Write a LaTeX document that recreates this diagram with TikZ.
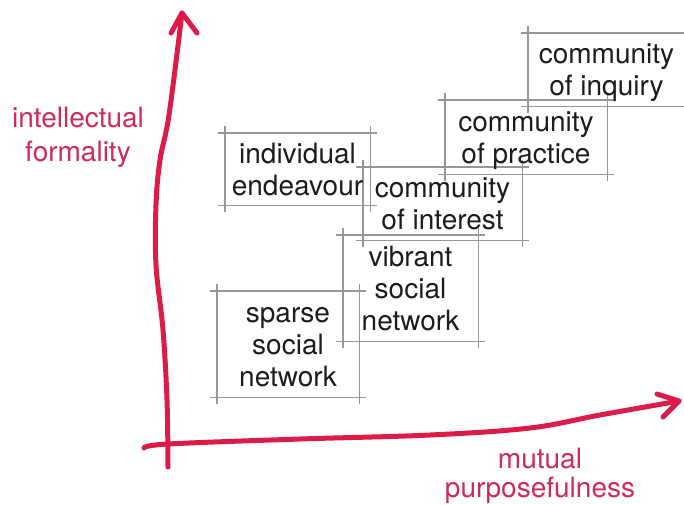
\documentclass[tikz,border=0pt]{standalone}
\usepackage{fontspec}
\setmainfont{TeX Gyre Heros}
\usetikzlibrary{backgrounds}

\definecolor{axisred}{RGB}{220,28,72}
\definecolor{labelred}{RGB}{208,42,88}
\definecolor{framegray}{RGB}{150,150,150}
\definecolor{inkblack}{RGB}{28,28,28}

% four loose strokes round a box, each running a little past the corners
\newcommand\sketchframe[1]{%
  \draw[frame] (#1.north west) -- (#1.north east);
  \draw[frame] (#1.south west) -- (#1.south east);
  \draw[frame] (#1.north west) -- (#1.south west);
  \draw[frame] (#1.north east) -- (#1.south east);
}
% even first/last line metrics, so every box centres its text alike
\newcommand\firstln[1]{\vphantom{A}#1}
\newcommand\lastln[1]{\smash{#1}\vphantom{A}}

\begin{document}
\begin{tikzpicture}[x=1pt,y=-1pt,
  stage/.style={inner sep=0pt, align=center, text=inkblack,
                font=\fontsize{28}{32}\selectfont},
  frame/.style={draw=framegray, line width=1.4pt,
                shorten <=-7pt, shorten >=-7pt},
  axis/.style={draw=axisred, line width=5pt, line cap=round, line join=round},
  axislabel/.style={inner sep=0pt, align=center, text=labelred}]
\useasboundingbox (0,0) rectangle (684,504);
\clip (0,0) rectangle (684,504);

% stages of a learning community
\node[stage, minimum width=142pt, minimum height=106pt] (sparse) at (288,344)
  {\firstln{sparse}\\social\\\lastln{network}};
\node[stage, minimum width=135pt, minimum height=106pt] (vibrant) at (410.5,288)
  {\firstln{vibrant}\\social\\\lastln{network}};
\node[stage, minimum width=159pt, minimum height=73pt] (interest) at (442.5,203.5)
  {\firstln{community}\\\lastln{of interest}};
\node[stage, minimum width=145pt, minimum height=72pt] (individual) at (297.5,169)
  {\firstln{individual}\\\lastln{endeavour}};
\node[stage, minimum width=162pt, minimum height=74pt] (practice) at (526,137)
  {\firstln{community}\\\lastln{of practice}};
\node[stage, minimum width=157pt, minimum height=73pt] (inquiry) at (606.5,69.5)
  {\firstln{community}\\\lastln{of inquiry}};

\begin{pgfonlayer}{background}
  \sketchframe{sparse}
  \sketchframe{vibrant}
  \sketchframe{interest}
  \sketchframe{individual}
  \sketchframe{practice}
  \sketchframe{inquiry}
\end{pgfonlayer}

% axis labels
\node[axislabel, font=\fontsize{28}{34}\selectfont] (ylabel) at (78,137)
  {\vphantom{Ay}intellectual\\formality\vphantom{Ay}};
\node[axislabel, font=\fontsize{28}{29}\selectfont] (xlabel) at (540,475.4)
  {\vphantom{Ay}mutual\\purposefulness\vphantom{Ay}};

% hand-drawn axes
\coordinate (vfoot) at (168,467);
\coordinate (vtip) at (182,13);
\coordinate (vwingl) at (171,33);
\coordinate (vwingr) at (197,33);
\coordinate (hfoot) at (144,448);
\coordinate (htip) at (679,401);
\coordinate (hwingu) at (657,394);
\coordinate (hwingd) at (663,417);

\draw[axis] plot[smooth, tension=0.6] coordinates
  {(vfoot) (167,400) (163,330) (156,265) (156,205) (160,160) (169,115) (vtip)};
\draw[axis] (vwingl) -- (vtip) -- (vwingr);

\draw[axis] plot[smooth, tension=0.6] coordinates
  {(hfoot) (168,444) (300,439) (430,435) (530,428) (600,415) (htip)};
\draw[axis] (hwingu) -- (htip) -- (hwingd);
\end{tikzpicture}
\end{document}
